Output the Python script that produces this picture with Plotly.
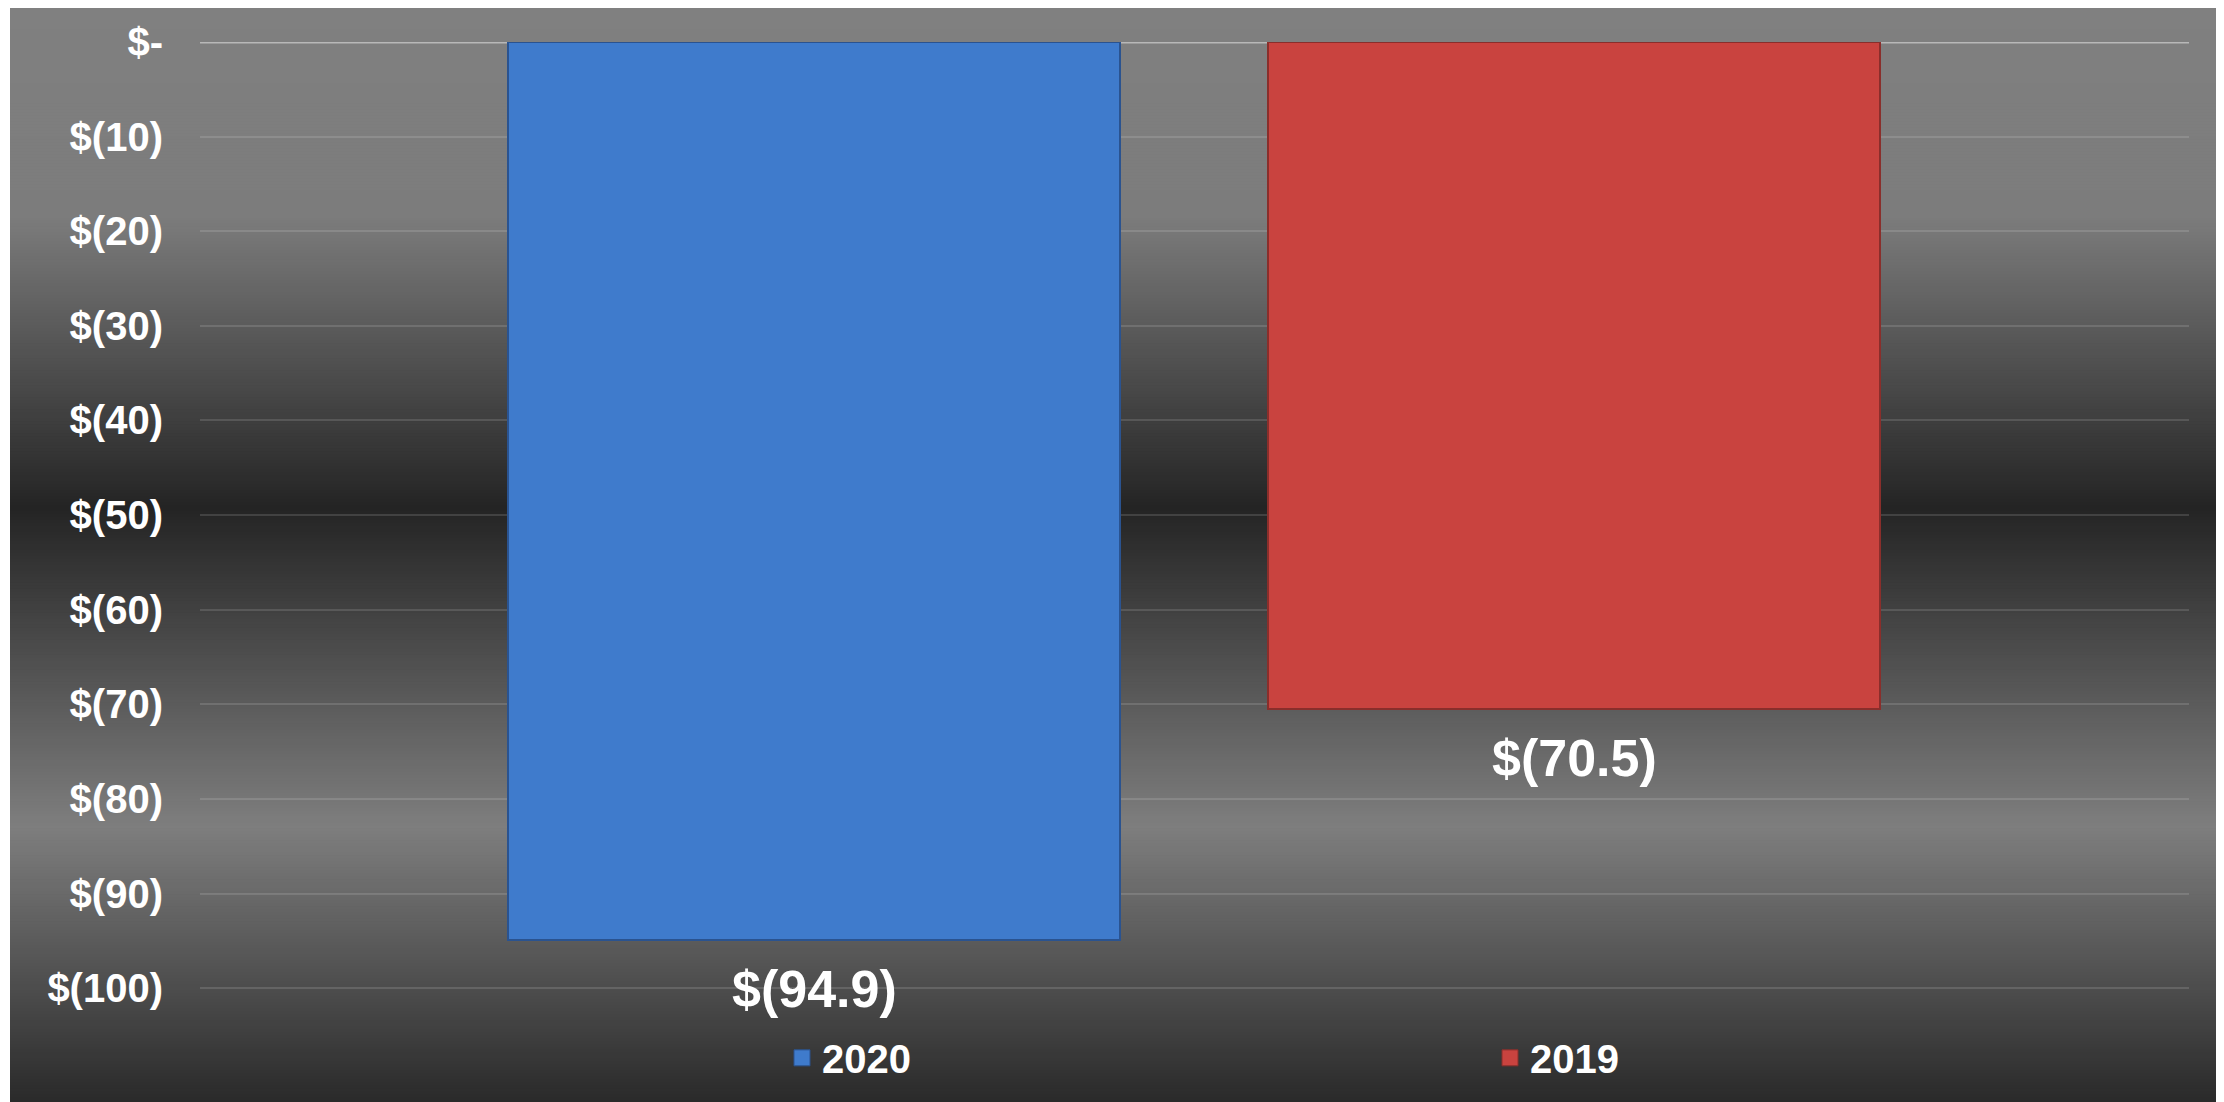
import plotly.graph_objects as go

# ---- data ----
categories = ["2020", "2019"]
values = [-94.9, -70.5]
value_labels = ["$(94.9)", "$(70.5)"]
bar_colors = ["#3f7bcc", "#c9433f"]
bar_line_colors = ["#2a5390", "#8a2e2b"]
tick_vals = [0, -10, -20, -30, -40, -50, -60, -70, -80, -90, -100]
tick_text = ["$-", "$(10)", "$(20)", "$(30)", "$(40)", "$(50)", "$(60)", "$(70)", "$(80)", "$(90)", "$(100)"]

OFF = 8  # browser body offset
W, H = 2224 - OFF, 1102 - OFF
ML, MR, MT, MB = 200 - OFF, 35, 40 - OFF, 112
PW, PH = W - ML - MR, H - MT - MB

FONT = "Liberation Sans, Arial, sans-serif"

fig = go.Figure()
xpos = list(range(len(categories)))
for i, (cat, v, c, lc) in enumerate(zip(categories, values, bar_colors, bar_line_colors)):
    fig.add_trace(go.Bar(
        x=[xpos[i]], y=[v], name=cat, width=0.805, showlegend=False,
        marker=dict(color=c, line=dict(color=lc, width=2)),
        hoverinfo="skip",
    ))
    # legend entry with a larger square symbol
    fig.add_trace(go.Scatter(
        x=[None], y=[None], mode="markers", name=cat,
        marker=dict(symbol="square", size=21, color=c, line=dict(color=lc, width=1)),
    ))

# data labels below bar ends
for i, (v, t) in enumerate(zip(values, value_labels)):
    fig.add_annotation(x=xpos[i], y=v, xref="x", yref="y", text=t, showarrow=False,
                       yanchor="top", yshift=-18,
                       font=dict(family=FONT, size=52, color="white", weight="bold"))

# background gradient (reference page px -> paper coords)
def px2x(px):
    return (px - OFF - ML) / PW

def py2y(py):
    return (H - MB - (py - OFF)) / PH

stops = [(0, 128), (215, 124), (507, 36), (826, 126), (1102, 42)]

def gray_at(py):
    for (y0, g0), (y1, g1) in zip(stops[:-1], stops[1:]):
        if y0 <= py <= y1:
            t = (py - y0) / (y1 - y0)
            return g0 + (g1 - g0) * t
    return stops[-1][1]

shapes = []
step = 3
top = 3
for py in range(top, 1102, step):
    g = int(round(gray_at(py + step / 2)))
    shapes.append(dict(type="rect", xref="paper", yref="paper",
                       x0=px2x(10), x1=px2x(2219), y0=py2y(min(py + step + 2, 1104)), y1=py2y(py),
                       fillcolor=f"rgb({g},{g},{g})", line=dict(width=0), layer="below"))
# baseline at zero
shapes.append(dict(type="line", xref="paper", yref="y", x0=0, x1=1, y0=0, y1=0,
                   line=dict(color="#b8b8b8", width=3), layer="below"))

fig.update_layout(
    width=W, height=H,
    margin=dict(l=ML, r=MR, t=MT, b=MB),
    paper_bgcolor="white",
    plot_bgcolor="rgba(0,0,0,0)",
    shapes=shapes,
    showlegend=True,
    legend=dict(orientation="h", x=px2x(782), xanchor="left", y=py2y(1058), yanchor="middle",
                bgcolor="rgba(0,0,0,0)", entrywidth=663, entrywidthmode="pixels",
                itemsizing="trace",
                font=dict(family=FONT, size=40, color="white", weight="bold")),
    xaxis=dict(range=[-0.808, 1.809], showticklabels=False, showgrid=False, zeroline=False,
               showline=False, fixedrange=True),
    yaxis=dict(range=[-100.2, 0], tickvals=tick_vals, ticktext=tick_text,
               showgrid=True, gridcolor="rgba(255,255,255,0.13)", gridwidth=2,
               zeroline=False, showline=False, ticks="", ticklabelstandoff=36,
               tickfont=dict(family=FONT, size=40, color="white", weight="bold")),
    bargap=0,
)

fig.write_html("out.html")
